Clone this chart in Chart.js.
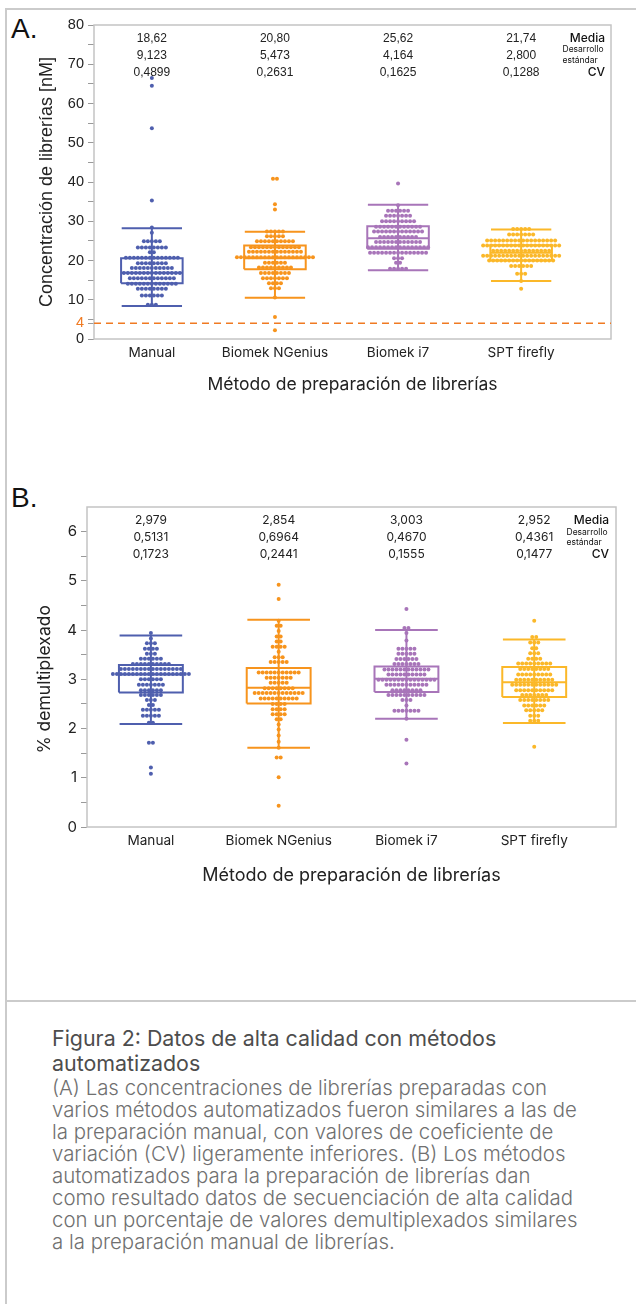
<!DOCTYPE html>
<html><head><meta charset="utf-8">
<script src="https://cdn.jsdelivr.net/npm/chart.js@4/dist/chart.umd.min.js"></script>
<style>
html,body{margin:0;padding:0;background:#fff}
body{width:636px;height:1304px;position:relative;overflow:hidden;font-family:Inter,"Noto Sans",sans-serif}
#frame{position:absolute;left:5px;top:8px;width:700px;height:1400px;border-left:2px solid #cbcbcb;border-top:2px solid #cbcbcb}
#sep{position:absolute;left:5px;top:1000px;width:700px;border-top:2px solid #cbcbcb}
.letter{position:absolute;font-family:"Liberation Sans",Arial,sans-serif;font-size:28px;color:#111;line-height:28px}
canvas{position:absolute;left:0}
#cap{position:absolute;left:52px;top:1026px;white-space:nowrap}
#cap .t{font-size:21.4px;line-height:25px;color:#4d4d4d;font-weight:400}
#cap .b{font-size:20.4px;line-height:22px;color:#707070;font-weight:300}
</style></head>
<body>
<div id="frame"></div>
<div id="sep"></div>
<div class="letter" style="left:11px;top:15px">A.</div>
<div class="letter" style="left:11px;top:484px">B.</div>
<canvas id="cA" width="636" height="400" style="top:0"></canvas>
<canvas id="cB" width="636" height="430" style="top:470px"></canvas>
<div id="cap">
<div class="t">Figura 2: Datos de alta calidad con métodos</div>
<div class="t">automatizados</div>
<div class="b" style="margin-top:1px">(A) Las concentraciones de librerías preparadas con</div>
<div class="b">varios métodos automatizados fueron similares a las de</div>
<div class="b">la preparación manual, con valores de coeficiente de</div>
<div class="b">variación (CV) ligeramente inferiores. (B) Los métodos</div>
<div class="b">automatizados para la preparación de librerías dan</div>
<div class="b">como resultado datos de secuenciación de alta calidad</div>
<div class="b">con un porcentaje de valores demultiplexados similares</div>
<div class="b">a la preparación manual de librerías.</div>
</div>
<script>
// ---------------- DATA ----------------
const categories = ['Manual', 'Biomek NGenius', 'Biomek i7', 'SPT firefly'];
const colors = ['#4f5fae', '#f7941d', '#a875b9', '#fbb829'];

// Panel A: library concentration [nM] — dot rows (value level, number of libraries)
const concLevels = [
  [66.5, 64.5, 53.7, 35.3, 28.4, 27.1, 24.9, 23.3, 22.1, 20.7, 19.3, 18.1, 16.8, 15.5, 14.1, 12.8, 11.1, 8.7],
  [40.8, 34.3, 33.0, 27.4, 26.2, 24.9, 23.4, 22.2, 20.8, 19.4, 18.2, 16.8, 15.5, 14.2, 12.9, 10.6, 5.6, 2.2],
  [39.6, 34.1, 32.7, 31.4, 30.0, 28.6, 27.4, 26.0, 24.7, 23.4, 22.0, 20.6, 19.4, 17.9],
  [28.0, 26.6, 25.1, 23.8, 22.5, 21.2, 20.0, 18.6, 16.6, 14.8, 12.8]
];
const concCounts = [
  [1, 1, 1, 1, 1, 1, 5, 8, 2, 14, 8, 11, 15, 12, 13, 8, 6, 3],
  [2, 1, 1, 5, 5, 10, 13, 14, 20, 6, 9, 8, 7, 4, 3, 1, 1, 1],
  [1, 1, 6, 7, 9, 12, 13, 10, 12, 16, 15, 3, 2, 5],
  [5, 7, 18, 20, 15, 20, 17, 6, 3, 1, 1]
];
const concWhiskerLow = [8.4, 10.5, 17.5, 14.8];
const concQ1 = [14.2, 17.8, 23.0, 20.0];
const concMedian = [16.9, 20.6, 25.7, 22.0];
const concQ3 = [20.6, 23.8, 28.7, 23.9];
const concWhiskerHigh = [28.2, 27.3, 34.2, 27.9];
const concMean = ['18,62', '20,80', '25,62', '21,74'];
const concSD = ['9,123', '5,473', '4,164', '2,800'];
const concCV = ['0,4899', '0,2631', '0,1625', '0,1288'];
const concThreshold = 4;

// Panel B: % demultiplexed — dot rows
const demuxLevels = [
  [3.94, 3.83, 3.73, 3.62, 3.52, 3.42, 3.31, 3.21, 3.11, 3.00, 2.89, 2.78, 2.68, 2.58, 2.48, 2.38, 2.26, 2.12, 1.71, 1.21, 1.08],
  [4.92, 4.63, 4.19, 4.09, 3.98, 3.87, 3.77, 3.66, 3.56, 3.45, 3.35, 3.14, 3.03, 2.93, 2.82, 2.72, 2.61, 2.50, 2.39, 2.29, 2.19, 2.08, 1.98, 1.86, 1.73, 1.61, 1.41, 1.01, 0.43],
  [4.43, 4.04, 3.94, 3.79, 3.62, 3.52, 3.41, 3.31, 3.20, 3.10, 2.99, 2.89, 2.78, 2.68, 2.58, 2.47, 2.36, 2.20, 1.77, 1.29],
  [4.19, 3.86, 3.75, 3.63, 3.53, 3.42, 3.32, 3.21, 3.10, 2.99, 2.89, 2.78, 2.68, 2.58, 2.47, 2.37, 2.26, 2.16, 1.63]
];
const demuxCounts = [
  [1, 1, 3, 4, 3, 6, 10, 16, 20, 6, 7, 6, 6, 3, 2, 5, 5, 2, 2, 1, 1],
  [1, 1, 1, 2, 1, 2, 2, 4, 1, 3, 5, 11, 7, 5, 8, 13, 10, 4, 4, 4, 2, 1, 1, 1, 1, 1, 2, 1, 1],
  [1, 2, 1, 1, 5, 5, 6, 7, 12, 10, 15, 11, 8, 10, 3, 1, 7, 1, 1, 1],
  [1, 2, 3, 2, 3, 4, 9, 8, 9, 10, 12, 10, 7, 8, 6, 5, 3, 3, 1]
];
const demuxWhiskerLow = [2.09, 1.61, 2.20, 2.11];
const demuxQ1 = [2.73, 2.51, 2.74, 2.64];
const demuxMedian = [3.10, 2.83, 3.01, 2.94];
const demuxQ3 = [3.29, 3.23, 3.26, 3.25];
const demuxWhiskerHigh = [3.89, 4.21, 4.00, 3.81];
const demuxMean = ['2,979', '2,854', '3,003', '2,952'];
const demuxSD = ['0,5131', '0,6964', '0,4670', '0,4361'];
const demuxCV = ['0,1723', '0,2441', '0,1555', '0,1477'];

// ---------------- HELPERS ----------------
const BOX_HALF = 0.25, CAP_HALF = 0.245, DOT_STEP_PX = 4;

function dotPoints(levels, counts, i, step) {
  const pts = [];
  levels.forEach((v, k) => {
    const n = counts[k];
    for (let j = 0; j < n; j++) pts.push({ x: i + (j - (n - 1) / 2) * step, y: v });
  });
  return pts;
}
function boxPoints(i, q1, med, q3) {
  const a = i - BOX_HALF, b = i + BOX_HALF;
  return [{x:a,y:q1},{x:b,y:q1},{x:b,y:q3},{x:a,y:q3},{x:a,y:q1},{x:a,y:null},{x:a,y:med},{x:b,y:med}];
}
function whiskerPoints(i, lo, hi) {
  const a = i - CAP_HALF, b = i + CAP_HALF;
  return [{x:i,y:lo},{x:i,y:hi},{x:i,y:null},{x:a,y:lo},{x:b,y:lo},{x:b,y:null},{x:a,y:hi},{x:b,y:hi}];
}

function makePanel(id, p) {
  const pxPerUnit = (p.plotRight - p.plotLeft) / (p.xMax - p.xMin);
  const step = DOT_STEP_PX / pxPerUnit;
  const datasets = [];
  categories.forEach((c, i) => {
    datasets.push({ type: 'scatter', data: dotPoints(p.levels[i], p.counts[i], i, step),
      pointRadius: 2, pointBackgroundColor: colors[i], pointBorderWidth: 0, order: 0 });
  });
  categories.forEach((c, i) => {
    datasets.push({ type: 'line', data: boxPoints(i, p.q1[i], p.med[i], p.q3[i]),
      borderColor: colors[i], borderWidth: 2, pointRadius: 0, fill: false, spanGaps: false, tension: 0, order: 1 });
    datasets.push({ type: 'line', data: whiskerPoints(i, p.wl[i], p.wh[i]),
      borderColor: colors[i], borderWidth: 2, pointRadius: 0, fill: false, spanGaps: false, tension: 0, order: 1 });
  });
  if (p.threshold != null) {
    datasets.push({ type: 'line', data: [{x:p.xMin,y:p.threshold},{x:p.xMax,y:p.threshold}],
      borderColor: '#f07a22', borderWidth: 1.4, borderDash: [7, 5], pointRadius: 0, fill: false, order: 2 });
  }

  const statsPlugin = {
    id: 'stats',
    afterDatasetsDraw(chart) {
      const ctx = chart.ctx, xs = chart.scales.x, top = chart.chartArea.top, right = chart.chartArea.right;
      ctx.save();
      ctx.fillStyle = '#222';
      ctx.textAlign = 'center'; ctx.textBaseline = 'middle';
      ctx.font = p.statFont;
      categories.forEach((c, i) => {
        const x = xs.getPixelForValue(i);
        ctx.fillText(p.mean[i], x, top + 13.5);
        ctx.fillText(p.sd[i], x, top + 30.5);
        ctx.fillText(p.cv[i], x, top + 47.5);
      });
      ctx.fillStyle = '#111';
      ctx.textAlign = 'right';
      ctx.font = '500 12px Inter, sans-serif';
      ctx.fillText('Media', right - p.legRight, top + 13.5);
      ctx.fillText('CV', right - p.legRight, top + 47.5);
      ctx.font = '8.5px Inter, sans-serif';
      ctx.textAlign = 'left';
      ctx.fillText('Desarrollo', right - p.legRight - 42.5, top + p.dy1);
      ctx.fillText('estándar', right - p.legRight - 42.5, top + p.dy2);
      ctx.restore();
    }
  };
  const framePlugin = {
    id: 'frame',
    beforeDatasetsDraw(chart) {
      const {left, top, right, bottom} = chart.chartArea, ctx = chart.ctx;
      ctx.save(); ctx.strokeStyle = '#c4c4c4'; ctx.lineWidth = 1.5;
      ctx.strokeRect(left, top, right - left, bottom - top); ctx.restore();
    }
  };

  return new Chart(document.getElementById(id), {
    type: 'scatter',
    data: { datasets },
    plugins: [framePlugin, statsPlugin],
    options: {
      responsive: false, maintainAspectRatio: false, animation: false,
      layout: { padding: { top: p.plotTop, right: p.canvasW - p.plotRight, left: 0, bottom: 0 } },
      plugins: { legend: { display: false }, tooltip: { enabled: false } },
      scales: {
        x: {
          type: 'linear', min: p.xMin, max: p.xMax,
          afterBuildTicks(ax) { ax.ticks = categories.map((c, i) => ({ value: i })); },
          afterFit(ax) { ax.height = p.canvasH - p.plotBottom; },
          grid: { display: false, drawTicks: false }, border: { display: false },
          ticks: { autoSkip: false, maxRotation: 0, padding: 6, color: '#222', font: p.catFont,
            callback: v => categories[v] },
          title: { display: true, text: 'Método de preparación de librerías', color: '#222',
            font: { family: 'Inter', size: p.xTitleSize }, padding: { top: 0, bottom: p.xTitlePad } }
        },
        y: {
          min: p.yMin, max: p.yMax,
          afterBuildTicks(ax) {
            const t = [];
            for (let v = p.yMin; v <= p.yLabelMax + 1e-9; v += p.yMinor) t.push(+v.toFixed(3));
            if (p.threshold != null) t.push(p.threshold);
            t.sort((a, b) => a - b);
            ax.ticks = t.map(v => ({ value: v }));
          },
          afterFit(ax) { ax.width = p.plotLeft; },
          grid: { drawOnChartArea: false, drawTicks: true, tickLength: 6, color: '#9a9a9a', lineWidth: 1 },
          border: { display: false },
          ticks: { autoSkip: false, padding: 4, font: p.tickFont,
            color: c => (p.threshold != null && c.tick && c.tick.value === p.threshold) ? '#f07a22' : '#222',
            callback: v => (Math.abs(v / p.yMajor - Math.round(v / p.yMajor)) < 1e-6 || v === p.threshold) ? String(v) : '' },
          title: { display: true, text: p.yTitle, color: '#222', font: p.yTitleFont, padding: { top: p.yTitlePad, bottom: 0 } }
        }
      }
    }
  });
}

makePanel('cA', {
  canvasW: 636, canvasH: 400, plotLeft: 94, plotRight: 611, plotTop: 25, plotBottom: 339,
  xMin: -0.47, xMax: 3.73, yMin: 0, yMax: 80, yMinor: 5, yMajor: 10, yLabelMax: 80,
  threshold: concThreshold,
  levels: concLevels, counts: concCounts, wl: concWhiskerLow, q1: concQ1, med: concMedian, q3: concQ3, wh: concWhiskerHigh,
  mean: concMean, sd: concSD, cv: concCV,
  statFont: '12px "Liberation Sans", Arial, sans-serif',
  catFont: { family: 'Inter', size: 13.6 },
  tickFont: { family: 'Liberation Sans', size: 14.5 },
  yTitle: 'Concentración de librerías [nM]', yTitleFont: { family: 'Liberation Sans', size: 18 }, yTitlePad: 36,
  xTitleSize: 17.5, xTitlePad: 4.5, legRight: 6, dy1: 24, dy2: 35
});

makePanel('cB', {
  canvasW: 636, canvasH: 430, plotLeft: 87, plotRight: 616, plotTop: 37, plotBottom: 357,
  xMin: -0.5, xMax: 3.64, yMin: 0, yMax: 6.5, yMinor: 0.5, yMajor: 1, yLabelMax: 6,
  threshold: null,
  levels: demuxLevels, counts: demuxCounts, wl: demuxWhiskerLow, q1: demuxQ1, med: demuxMedian, q3: demuxQ3, wh: demuxWhiskerHigh,
  mean: demuxMean, sd: demuxSD, cv: demuxCV,
  statFont: '12px Inter, sans-serif',
  catFont: { family: 'Inter', size: 13.6 },
  tickFont: { family: 'Inter', size: 15 },
  yTitle: '% demultiplexado     ', yTitleFont: { family: 'Inter', size: 17.5 }, yTitlePad: 34.5,
  xTitleSize: 18, xTitlePad: 14, legRight: 7, dy1: 25, dy2: 35
});
</script>
</body></html>
